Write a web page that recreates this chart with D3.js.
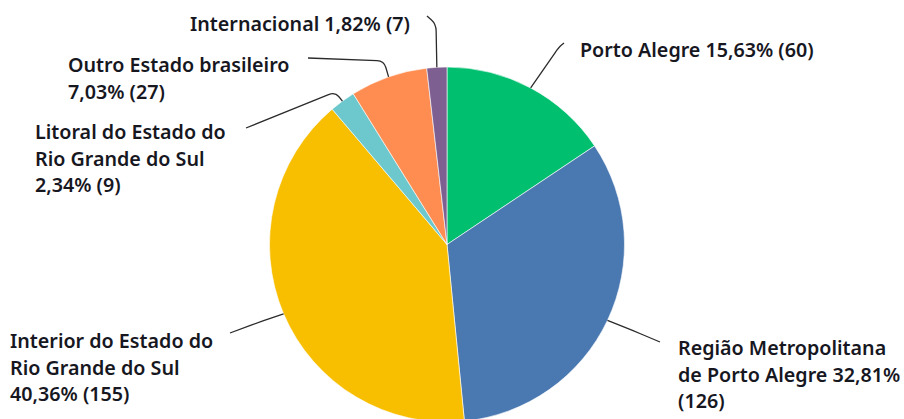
<!doctype html>
<html lang="pt">
  <head>
    <meta charset="utf-8">
    <script src="https://cdn.jsdelivr.net/npm/d3@7"></script>
    <style>
html, body { margin: 0; padding: 0; background: #fff; }
svg { display: block; }
.label { font-family: "Noto Sans", sans-serif; font-weight: 600; font-size: 19.7px; fill: #17171f; }
.leader { fill: none; stroke: #2b2b2b; stroke-width: 1.3; }
.slice { stroke: #fff; stroke-width: 0.6; }
    </style>
  </head>
  <body>
    <svg id="chart" width="904" height="419"></svg>
    <script>
//=============================== DATA ===================================
var categories = [
	'Porto Alegre',
	'Região Metropolitana de Porto Alegre',
	'Interior do Estado do Rio Grande do Sul',
	'Litoral do Estado do Rio Grande do Sul',
	'Outro Estado brasileiro',
	'Internacional'
]
var counts = [60, 126, 155, 9, 27, 7]
var colors = ['#00bf6f', '#4a78b0', '#f8be00', '#6cc8cc', '#ff8c50', '#7d5f91']

// label layout: text anchor point, words per line, leader knee + end
var layout = [
	{ x: 580, y: 57,  lines: [4],       knee: [559, 47], end: [564, 43] },
	{ x: 678, y: 355, lines: [2, 4, 1], knee: [634, 331], end: [660, 342] },
	{ x: 10,  y: 348, lines: [4, 4, 2], knee: [257, 323], end: [230, 333] },
	{ x: 35,  y: 139, lines: [4, 4, 2], knee: [335, 92], end: [246, 128] },
	{ x: 68,  y: 72,  lines: [3, 2],    knee: [384, 61], end: [308, 58] },
	{ x: 190, y: 31,  lines: [3],       knee: [436, 24], end: [427, 16] }
]
var lineHeight = 26.5
//=============================== DRAW ===================================
var cx = 447, cy = 244.5, r = 177.5
var total = d3.sum(counts)

var svg = d3.select('#chart')
var g = svg.append('g').attr('transform', 'translate(' + cx + ',' + cy + ')')

var pie = d3.pie().sort(null).value(function(d) { return d })
var arcs = pie(counts)
var arc = d3.arc().innerRadius(0).outerRadius(r)

g.selectAll('path.slice')
	.data(arcs).enter()
	.append('path').classed('slice', true)
	.attr('d', arc)
	.attr('fill', function(d, i) { return colors[i] })

function fmtPct(v) {
	return (v / total * 100).toFixed(2).replace('.', ',') + '%'
}

// rounded-corner leader from slice edge to label
function leaderPath(a, i) {
	var mid = (a.startAngle + a.endAngle) / 2
	var s = [cx + r * Math.sin(mid), cy - r * Math.cos(mid)]
	var k = layout[i].knee, e = layout[i].end
	function toward(p, q, dist) {
		var dx = q[0] - p[0], dy = q[1] - p[1]
		var len = Math.sqrt(dx * dx + dy * dy) || 1
		var t = Math.min(dist / len, 0.5)
		return [p[0] + dx * t, p[1] + dy * t]
	}
	var p1 = toward(k, s, 7), p2 = toward(k, e, 7)
	return 'M' + s + 'L' + p1 + 'Q' + k + ' ' + p2 + 'L' + e
}

svg.selectAll('path.leader')
	.data(arcs).enter()
	.append('path').classed('leader', true)
	.attr('d', leaderPath)

arcs.forEach(function(a, i) {
	var tokens = categories[i].split(' ').concat([fmtPct(counts[i]), '(' + counts[i] + ')'])
	var lines = [], pos = 0
	layout[i].lines.forEach(function(n) {
		lines.push(tokens.slice(pos, pos + n).join(' '))
		pos += n
	})
	var t = svg.append('text').classed('label', true)
		.attr('x', layout[i].x).attr('y', layout[i].y)
	t.selectAll('tspan')
		.data(lines).enter()
		.append('tspan')
		.attr('x', layout[i].x)
		.attr('y', function(d, j) { return layout[i].y + j * lineHeight })
		.text(function(d) { return d })
})
    </script>
  </body>
</html>
